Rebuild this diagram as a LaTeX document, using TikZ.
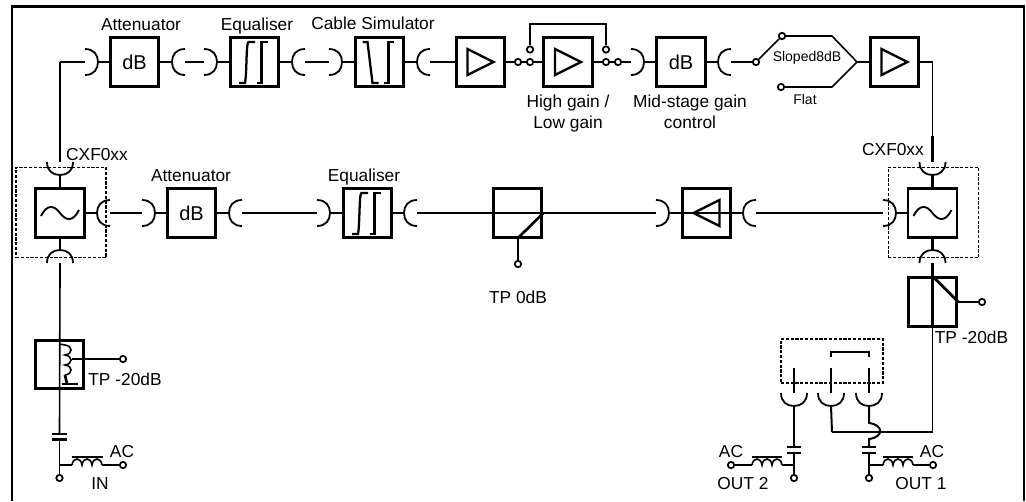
\documentclass[tikz,border=0pt]{standalone}
\usepackage{fontspec}
\setmainfont{Liberation Sans}
\tikzset{
 frameline/.style={line width=1.7pt},
 wirea/.style={line width=1.2pt},
 wireb/.style={line width=2pt},
 plugline/.style={line width=1.35pt},
 box/.style={draw,line width=2.2pt,minimum size=36.6pt,inner sep=0pt,font=\fontsize{15}{15}\selectfont},
 filt/.style={draw,line width=1.6pt,minimum size=36.8pt,inner sep=0pt},
 dot/.style={circle,draw,fill=white,line width=1.3pt,minimum size=4.8pt,inner sep=0pt},
 dashbox/.style={draw,dashed,dash pattern=on 2.4pt off 1.2pt,line width=.8pt,inner sep=0pt},
 lab/.style={inner sep=0pt,anchor=base,align=center,font=\fontsize{13}{15.75}\selectfont},
 labs/.style={inner sep=0pt,anchor=base,font=\fontsize{10.5}{12}\selectfont},
 plug/.pic={\draw[plugline] (0,-13) .. controls (9,-13) and (13,-7) .. (13,0) .. controls (13,7) and (9,13) .. (0,13);
   \coordinate (-a) at (13,0); \coordinate (-b) at (0,0);},
 amp/.pic={\draw[line width=1.7pt,line join=miter] (-13,-13) -- (13,0) -- (-13,13) -- cycle;},
 eqsym/.pic={\draw[line width=1.7pt] (-15.5,21) -- (-9.5,21) .. controls (-7.5,10) and (-8.5,-20) .. (-6,-20) -- (.5,-20);
   \draw[line width=2pt] (2,21) -- (7,21) -- (7,-20) -- (13,-20);},
 cabsym/.pic={\draw[line width=1.7pt] (-17,-20) -- (-12,-20) -- (-7,21) -- (-1,21);
   \draw[line width=2pt] (4,21) -- (9,21) -- (9,-20) -- (14,-20);},
 tilde/.pic={\draw[line width=1.4pt] (-19,3) .. controls (-13,-9) and (-6,-8) .. (0,0) .. controls (6,8) and (13,9) .. (19,-3);},
 coil/.pic={\draw[line width=1.2pt] (0,0) .. controls (1,-8) and (9,-8) .. (10,0) .. controls (11,-8) and (19,-8) .. (20,0) .. controls (21,-8) and (29,-8) .. (30,0);
   \coordinate (-s) at (0,0); \coordinate (-e) at (30,0);},
}
\begin{document}
\begin{tikzpicture}[x=0.75pt,y=-0.75pt]
\useasboundingbox (0,0) rectangle (1026,501);
% frame
\coordinate (fa) at (12,501); \coordinate (fb) at (12,6.5); \coordinate (fc) at (1024,6.5); \coordinate (fd) at (1024,501);
\draw[frameline] (fa) -- (fb) -- (fc) -- (fd);

% top-row boxes
\node[box] (att1) at (134.5,62) {dB};
\node[box] (eq1) at (254.5,62) {}; \pic at (eq1.center) {eqsym};
\node[box] (cab) at (379.5,62) {}; \pic at (cab.center) {cabsym};
\node[box] (amp1) at (480.5,62) {}; \pic at (amp1.center) {amp};
\node[box] (amp2) at (568,62) {}; \pic at (amp2.center) {amp};
\node[box] (att3) at (681,62) {dB};
\node[box] (amp3) at (894.5,62) {}; \pic at (amp3.center) {amp};

% middle-row boxes
\node[filt] (fl) at (60,213) {}; \pic at (fl.center) {tilde};
\node[box] (att2) at (191.5,213) {dB};
\node[box] (eq2) at (367.5,213) {}; \pic at (eq2.center) {eqsym};
\node[box] (tp0) at (517.5,213) {};
\node[box] (amp4) at (706.5,213) {}; \pic[rotate=180] at (amp4.center) {amp};
\node[filt] (fr) at (932.5,213) {}; \pic at (fr.center) {tilde};

% dashed enclosures
\node[dashbox,minimum width=67.5pt,minimum height=68pt] (dl) at (61,212.5) {};
\node[dashbox,minimum width=68pt,minimum height=68pt] (dr) at (933.5,212.5) {};

% top-row plugs
\pic (p1) at (85,62) {plug};
\pic[rotate=180] (p2) at (185,62) {plug};
\pic (p3) at (204,62) {plug};
\pic[rotate=180] (p4) at (305,62) {plug};
\pic (p5) at (329,62) {plug};
\pic[rotate=180] (p6) at (430,62) {plug};
\pic (p7) at (631,62) {plug};
\pic[rotate=180] (p8) at (731,62) {plug};

% middle-row plugs
\pic[rotate=180] (qa) at (110,213) {plug};
\pic (qb) at (142,213) {plug};
\pic[rotate=180] (qc) at (242,213) {plug};
\pic (qd) at (317,213) {plug};
\pic[rotate=180] (qe) at (417,213) {plug};
\pic (qf) at (656,213) {plug};
\pic[rotate=180] (qg) at (756,213) {plug};
\pic (qh) at (883,213) {plug};

% vertical plugs on filters
\pic[rotate=-90] (lt) at (60,162) {plug};
\pic[rotate=90] (lb) at (60,263) {plug};
\pic[rotate=-90] (rt) at (932.5,162) {plug};
\pic[rotate=90] (rb) at (932.5,263) {plug};

% output plugs
\pic[rotate=-90] (o2) at (794,393) {plug};
\pic[rotate=-90] (om) at (831,393) {plug};
\pic[rotate=-90] (o1) at (869,393) {plug};

% top-row wires
\coordinate (cn1) at (60,62);
\coordinate (cn2) at (932.5,62);
\draw[wireb] (p1-b) -- (cn1);
\draw[wirea] (cn1) -- (lt-b);
\draw[wireb] (lt-b) -- ++(0,-26);
\draw[wirea] (p1-a) -- (att1.west);
\draw[wireb] (att1.east) -- (p2-a);
\draw[wireb] (p2-b) -- (p3-b);
\draw[wireb] (p3-a) -- (eq1.west);
\draw[wireb] (eq1.east) -- (p4-a);
\draw[wireb] (p4-b) -- (p5-b);
\draw[wirea] (p5-a) -- (cab.west);
\draw[wireb] (cab.east) -- (p6-a);
\draw[wireb] (p6-b) -- (amp1.west);

% high/low gain
\node[dot] (c1) at (518,62) {};
\node[dot] (c2) at (530,62) {};
\node[dot] (c3) at (530,49.5) {};
\node[dot] (c4) at (606,62) {};
\node[dot] (c5) at (618,62) {};
\node[dot] (c6) at (606,49.5) {};
\coordinate (br) at (568,24);
\draw[wirea] (amp1.east) -- (c1);
\draw[wirea] (c1) -- (c2);
\draw[wirea] (c2) -- (amp2.west);
\draw[wirea] (amp2.east) -- (c4);
\draw[wirea] (c4) -- (c5);
\draw[wireb] (c5) -- (p7-b);
\draw[wirea] (c3) -- (c3|-br) -- (c6|-br) -- (c6);
\draw[wireb] (p7-a) -- (att3.west);
\draw[wireb] (att3.east) -- (p8-a);

% slope switch
\node[dot] (s0) at (756,62) {};
\node[dot] (sa) at (782,36) {};
\node[dot] (sb) at (781,87) {};
\coordinate (sc) at (832,36);
\coordinate (sd) at (832,87);
\coordinate (se) at (857,62);
\draw[wireb] (p8-b) -- (s0);
\draw[wirea] (s0) -- (sa);
\draw[wirea] (sa) -- (sc) -- (se) -- (sd) -- (sb);
\draw[wirea] (se) -- (amp3.west);
\draw[wirea] (amp3.east) -- (cn2) -- (rt-b);
\draw[wireb] (rt-b) -- ++(0,-26);

% filter stubs
\draw[wireb] (lt-a) -- (fl.north);
\draw[wireb] (fl.south) -- (lb-a);
\draw[wireb] (rt-a) -- (fr.north);
\draw[wireb] (fr.south) -- (rb-a);

% middle-row wires
\draw[wireb] (fl.east) -- (qa-a);
\draw[wireb] (qa-b) -- (qb-b);
\draw[wireb] (qb-a) -- (att2.west);
\draw[wireb] (att2.east) -- (qc-a);
\draw[wirea] (qc-b) -- (qd-b);
\draw[wireb] (qc-b) -- ++(26,0);
\draw[wireb] (qd-b) -- ++(-26,0);
\draw[wireb] (qd-a) -- (eq2.west);
\draw[wireb] (eq2.east) -- (qe-a);
\draw[wirea] (qe-b) -- (qf-b);
\draw[wireb] (qe-b) -- ++(26,0);
\draw[wireb] (tp0.west) -- (tp0.east);
\draw[wireb] (qf-b) -- ++(-26,0);
\draw[wireb] (qf-a) -- (amp4.east);
\draw[wireb] (amp4.west) -- (qg-a);
\draw[wirea] (qg-b) -- (qh-b);
\draw[wireb] (qg-b) -- ++(26,0);
\draw[wireb] (qh-b) -- ++(-26,0);
\draw[wireb] (qh-a) -- (fr.west);
% mid test point
\node[dot] (d0) at (518,264) {};
\coordinate (d1) at (518,238);
\draw[wireb] (tp0.east) -- (d1);
\draw[wirea] (d1) -- (d0);

% input chain
\node[box] (tpl) at (59.5,364.5) {};
\node[dot] (dl1) at (123,359) {};
\node[dot] (inn) at (59.5,478) {};
\node[dot] (acl) at (123,465) {};
\coordinate (capa) at (59.5,434);
\coordinate (capb) at (59.5,439.5);
\coordinate (jl) at (59.5,465);
\draw[wireb] (lb-b) -- ++(0,25);
\draw[wirea] (lb-b) -- (capa);
\draw[wirea] (capb) -- (inn);
\draw[wireb] ([xshift=-5.5]capa) -- ([xshift=5.5]capa);
\draw[wireb] ([xshift=-5.5]capb) -- ([xshift=5.5]capb);
\pic[rotate=-90] (cl) at (65,345) {coil};
\coordinate (clt) at (59.5,344);
\coordinate (clm) at (72,359);
\coordinate (clb) at (67,384);
\draw[wirea] (clt) -- (cl-s);
\draw[wirea] (clm) -- (dl1);
\draw[wireb] (cl-e) -- (clb);
\draw[wireb] ([xshift=-4]clb) -- ([xshift=8]clb);
\pic (il) at (72,465) {coil};
\draw[wirea] (jl) -- (il-s);
\draw[wireb] (il-e) -- (acl);
\draw[wireb] (72,457) -- (103,457);

% right test point
\node[box] (tpr) at (932.5,302) {};
\node[dot] (dr1) at (982,302) {};
\draw[wireb] (rb-b) -- (tpr.north) -- (tpr.center);
\draw[wireb] (tpr.north) -- (tpr.east);
\draw[wirea] (tpr.east) -- (dr1);
\coordinate (rw) at (932.5,432);
\coordinate (rx) at (832,432);
\draw[wireb] (tpr.center) -- (tpr.south);
\draw[wirea] (tpr.south) -- (rw);
\draw[wirea] (rw) -- (rx);
\draw[wirea,line width=1.5pt] (rx) -- (om-a);

% link block
\node[dashbox,line width=1.1pt,minimum width=76.5pt,minimum height=33pt] (lk) at (832,361) {};
\coordinate (bk1) at (831,368);
\coordinate (bk2) at (869,368);
\coordinate (bk3) at (794,368);
\draw[wireb] (bk3) -- (o2-b);
\draw[wireb] (bk1) -- (om-b);
\draw[wireb] (bk2) -- (o1-b);
\draw[wireb] (831,357) -- (831,352) -- (869,352) -- (869,357);

% out 1
\coordinate (h1) at (869,423);
\coordinate (h2) at (869,439);
\coordinate (ca1) at (869,447);
\coordinate (ca2) at (869,453);
\coordinate (j1) at (869,465);
\node[dot] (ou1) at (869,478) {};
\node[dot] (ac1) at (933,465) {};
\draw[wirea,line width=1.5pt] (o1-a) -- (h1) .. controls (884,425) and (884,437) .. (h2) -- (ca1);
\draw[wireb] ([xshift=-5.5]ca1) -- ([xshift=5.5]ca1);
\draw[wireb] ([xshift=-5.5]ca2) -- ([xshift=5.5]ca2);
\draw[wirea] (ca2) -- (ou1);
\pic (i1) at (883,465) {coil};
\draw[wirea] (j1) -- (i1-s);
\draw[wireb] (i1-e) -- (ac1);
\draw[wireb] (883,457) -- (913,457);

% out 2
\coordinate (ca3) at (794,447);
\coordinate (ca4) at (794,453);
\coordinate (j2) at (794,465);
\node[dot] (ou2) at (794,478) {};
\node[dot] (ac2) at (731,465) {};
\draw[wirea,line width=1.5pt] (o2-a) -- (ca3);
\draw[wireb] ([xshift=-5.5]ca3) -- ([xshift=5.5]ca3);
\draw[wireb] ([xshift=-5.5]ca4) -- ([xshift=5.5]ca4);
\draw[wirea] (ca4) -- (ou2);
\pic (i2) at (752,465) {coil};
\draw[wirea] (ac2) -- (i2-s);
\draw[wireb] (i2-e) -- (j2);
\draw[wireb] (752,457) -- (782,457);

% labels
\node[lab] (t1) at (141,30) {Attenuator};
\node[lab] (t2) at (257,30) {Equaliser};
\node[lab] (t3) at (373,29) {Cable Simulator};
\node[lab] (t4) at (568,128) {High gain /\\Low gain};
\node[lab] (t5) at (690,128) {Mid-stage gain\\control};
\node[labs] (t6) at (807,61) {Sloped8dB};
\node[labs] (t7) at (805,104) {Flat};
\node[lab] (t8) at (97,160) {CXF0xx};
\node[lab] (t9) at (893,155) {CXF0xx};
\node[lab] (t10) at (191,181) {Attenuator};
\node[lab] (t11) at (364,181) {Equaliser};
\node[lab] (t12) at (518,303) {TP 0dB};
\node[lab] (t13) at (971.5,343) {TP -20dB};
\node[lab] (t14) at (125,385) {TP -20dB};
\node[lab] (t15) at (122,457) {AC};
\node[lab] (t16) at (100,489) {IN};
\node[lab] (t17) at (731,457) {AC};
\node[lab] (t18) at (743,489) {OUT 2};
\node[lab] (t19) at (932,457) {AC};
\node[lab] (t20) at (921,489) {OUT 1};
\end{tikzpicture}
\end{document}
